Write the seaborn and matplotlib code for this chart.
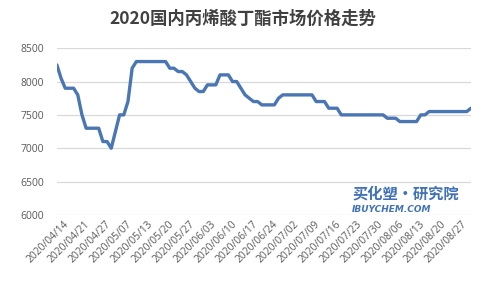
import matplotlib
matplotlib.use("Agg")
import matplotlib.pyplot as plt
import matplotlib.transforms as mtransforms
import seaborn as sns
import pandas as pd
import numpy as np

title = "2020国内丙烯酸丁酯市场价格走势"

prices = [
    8250, 8050, 7900, 7900, 7900, 7800, 7500, 7300, 7300, 7300,
    7300, 7100, 7100, 7000, 7250, 7500, 7500, 7700, 8200, 8300,
    8300, 8300, 8300, 8300, 8300, 8300, 8300, 8200, 8200, 8150,
    8150, 8100, 8000, 7900, 7850, 7850, 7950, 7950, 7950, 8100,
    8100, 8100, 8000, 8000, 7900, 7800, 7750, 7700, 7700, 7650,
    7650, 7650, 7650, 7750, 7800, 7800, 7800, 7800, 7800, 7800,
    7800, 7800, 7700, 7700, 7700, 7600, 7600, 7600, 7500, 7500,
    7500, 7500, 7500, 7500, 7500, 7500, 7500, 7500, 7500, 7450,
    7450, 7450, 7400, 7400, 7400, 7400, 7400, 7500, 7500, 7550,
    7550, 7550, 7550, 7550, 7550, 7550, 7550, 7550, 7550, 7600,
]

tick_labels = [
    "2020/04/14", "2020/04/21", "2020/04/27", "2020/05/07", "2020/05/13",
    "2020/05/20", "2020/05/27", "2020/06/03", "2020/06/10", "2020/06/17",
    "2020/06/24", "2020/07/02", "2020/07/09", "2020/07/16", "2020/07/23",
    "2020/07/30", "2020/08/06", "2020/08/13", "2020/08/20", "2020/08/27",
]
label_step = 5

y_ticks = [6000, 6500, 7000, 7500, 8000, 8500]

sns.set_theme(style="white")
plt.rcParams['font.family'] = ['Noto Sans CJK SC', 'DejaVu Sans']

df = pd.DataFrame({"idx": np.arange(len(prices)), "price": prices})

fig = plt.figure(figsize=(4.86, 2.82), dpi=100)
ax = fig.add_axes([0.117, 0.238, 0.852, 0.591])

for yv in y_ticks:
    ax.axhline(yv, color="#D9D9D9", lw=0.9, zorder=0)

sns.lineplot(data=df, x="idx", y="price", ax=ax, color="#4A76B4", lw=2.4, zorder=3)

ax.set_xlim(0, len(prices) - 1)
ax.set_ylim(6000, 8500)
ax.set_yticks(y_ticks)
ax.set_yticklabels([str(v) for v in y_ticks], fontsize=7.5, color="#595959",
                   family=['Open Sans', 'DejaVu Sans'])
ax.set_xticks([i * label_step for i in range(len(tick_labels))])
ax.set_xticklabels(tick_labels, rotation=45, ha="right", rotation_mode="anchor",
                   fontsize=7.4, color="#595959", family=['Open Sans', 'DejaVu Sans'])
ax.tick_params(axis="both", length=0, pad=3)
ax.tick_params(axis="y", pad=9)
offset = mtransforms.ScaledTranslation(5 / 72, 0, fig.dpi_scale_trans)
for lbl in ax.get_xticklabels():
    lbl.set_transform(lbl.get_transform() + offset)
for s in ax.spines.values():
    s.set_visible(False)
ax.set_xlabel("")
ax.set_ylabel("")

fig.text(0.5, 0.935, title, ha="center", va="center", fontsize=12.5,
         fontweight="bold", color="#404040")

# watermark
fig.text(0.835, 0.315, "买化塑·研究院", ha="center", va="center", fontsize=11,
         fontweight="bold", style="italic", color="#2B63B0", alpha=0.9)
fig.text(0.805, 0.258, "IBUYCHEM.COM", ha="center", va="center", fontsize=6.5,
         fontweight="bold", style="italic", color="#2B63B0", alpha=0.9,
         family=['DejaVu Sans'])

fig.savefig("out.png", dpi=100)
